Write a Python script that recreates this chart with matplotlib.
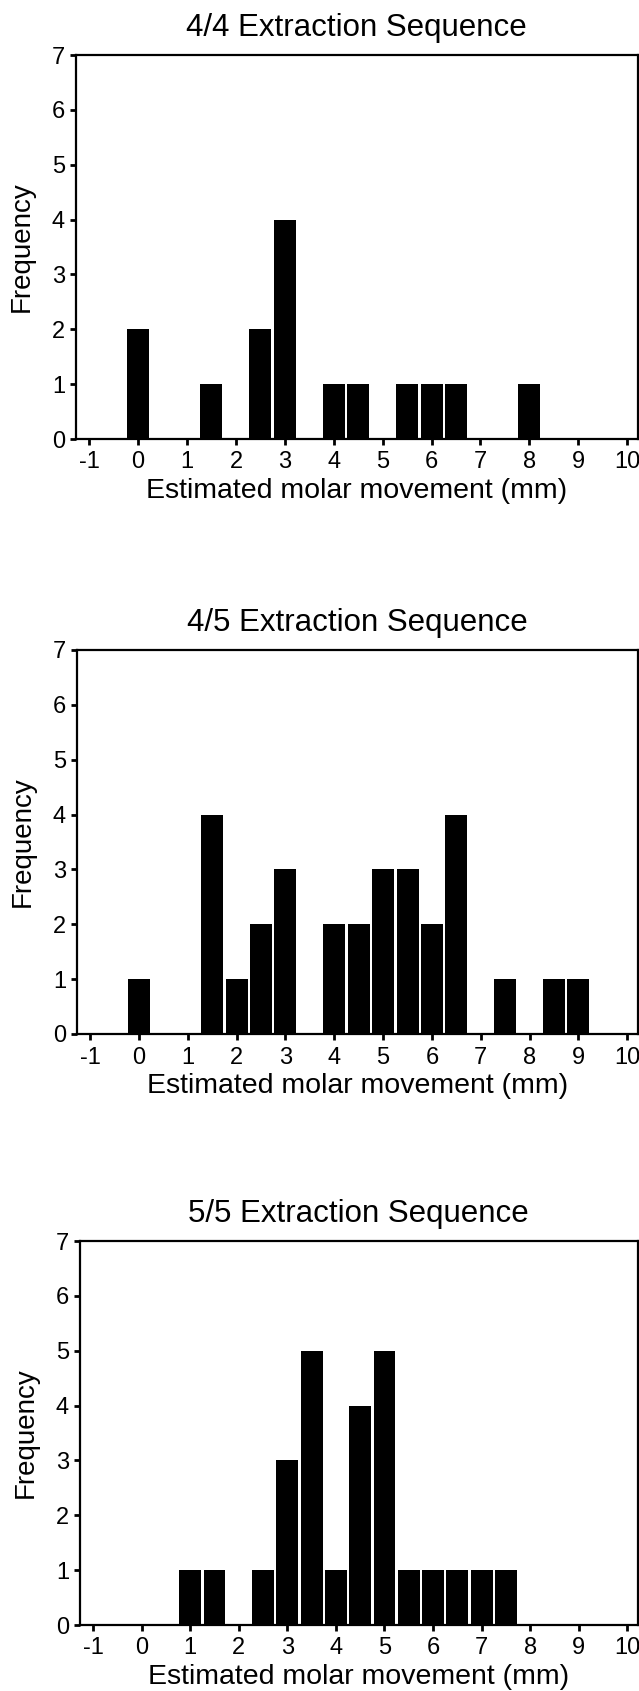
import matplotlib
matplotlib.use('Agg')
import matplotlib.pyplot as plt
from matplotlib import rcParams, ticker

rcParams['font.family'] = ['Liberation Sans', 'DejaVu Sans']
rcParams['axes.unicode_minus'] = False

# bin centres (mm) and counts for each extraction sequence
seq_44_x = [0, 1.5, 2.5, 3, 4, 4.5, 5.5, 6, 6.5, 8]
seq_44_y = [2, 1, 2, 4, 1, 1, 1, 1, 1, 1]

seq_45_x = [0, 1.5, 2, 2.5, 3, 4, 4.5, 5, 5.5, 6, 6.5, 7.5, 8.5, 9]
seq_45_y = [1, 4, 1, 2, 3, 2, 2, 3, 3, 2, 4, 1, 1, 1]

seq_55_x = [1, 1.5, 2.5, 3, 3.5, 4, 4.5, 5, 5.5, 6, 6.5, 7, 7.5]
seq_55_y = [1, 1, 1, 3, 5, 1, 4, 5, 1, 1, 1, 1, 1]

titles = ['4/4 Extraction Sequence', '4/5 Extraction Sequence', '5/5 Extraction Sequence']
x_ticks = list(range(-1, 11))
y_ticks = list(range(0, 8))

W, H = 639, 1691
fig = plt.figure(figsize=(W / 100, H / 100), dpi=100)

# (left px, top px, bottom px) per panel
boxes = [(76, 55, 439), (77, 650, 1034), (80, 1241, 1625)]
right_px = 637.5

data = [(seq_44_x, seq_44_y), (seq_45_x, seq_45_y), (seq_55_x, seq_55_y)]

for i, (xs, ys) in enumerate(data):
    left, top, bottom = boxes[i]
    ax = fig.add_axes([left / W, 1 - bottom / H, (right_px - left) / W, (bottom - top) / H])
    ax.bar(xs, ys, width=0.45, color='black', align='center', linewidth=0)
    ax.set_xlim(-1.27, 10.21)
    ax.set_ylim(0, 7)
    ax.xaxis.set_major_locator(ticker.FixedLocator(x_ticks))
    ax.yaxis.set_major_locator(ticker.FixedLocator(y_ticks))
    ax.tick_params(axis='both', direction='out', length=4, width=2, labelsize=17)
    ax.tick_params(axis='x', pad=5)
    ax.tick_params(axis='y', pad=4)
    for s in ax.spines.values():
        s.set_linewidth(1.6)
    ax.set_title(titles[i], fontsize=22.5, pad=14)
    ax.set_xlabel('Estimated molar movement (mm)', fontsize=20.5, labelpad=3)
    ax.set_ylabel('Frequency', fontsize=20, labelpad=12)

fig.savefig('out.png', dpi=100)
